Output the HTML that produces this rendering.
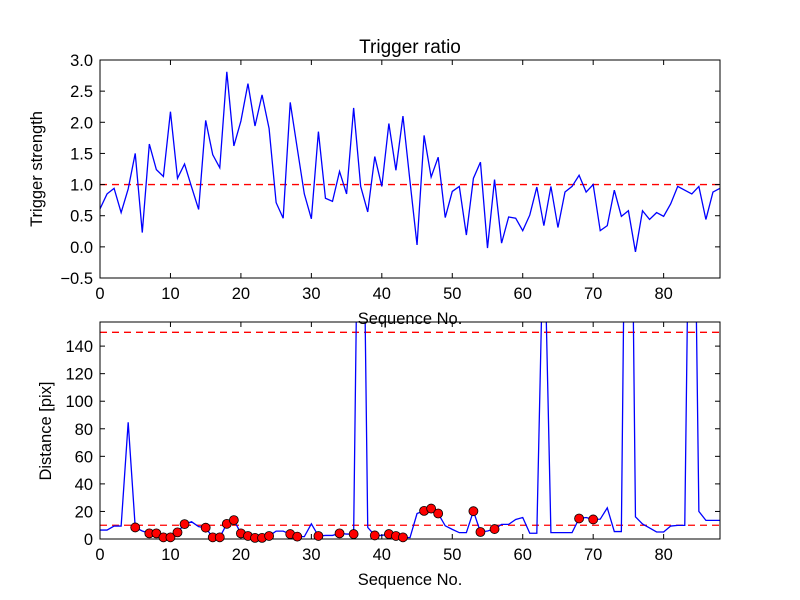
<!DOCTYPE html>
<html><head><meta charset="utf-8"><style>
body{margin:0;background:#fff;}
svg{display:block;font-family:"Liberation Sans",sans-serif;}
</style></head><body>
<svg id="fig" width="800" height="600" xmlns="http://www.w3.org/2000/svg"></svg>
<script>
const seq = Array.from({length:89},(_,i)=>i);
const ratioVals = [0.61,0.85,0.94,0.55,0.93,1.50,0.23,1.65,1.24,1.13,2.17,1.10,1.33,0.96,0.60,2.03,1.48,1.27,2.81,1.62,2.02,2.62,1.94,2.44,1.90,0.71,0.46,2.32,1.58,0.85,0.45,1.85,0.78,0.73,1.21,0.85,2.23,0.97,0.56,1.45,0.97,1.98,1.23,2.10,1.05,0.03,1.79,1.12,1.44,0.47,0.89,0.97,0.19,1.10,1.36,-0.02,1.08,0.06,0.48,0.46,0.26,0.51,0.96,0.34,0.97,0.31,0.88,0.97,1.15,0.88,1.00,0.26,0.34,0.91,0.49,0.58,-0.08,0.58,0.44,0.55,0.49,0.69,0.97,0.91,0.85,0.97,0.44,0.88,0.94];
const distVals = [6.5,6.5,9.4,9.4,84.7,8.4,5.8,4.1,4.1,1.2,1.2,4.8,10.8,12.5,9.0,8.2,1.2,1.2,11,13.7,4.1,2.2,0.8,0.8,2.2,5.7,5.7,3.6,1.7,1.7,11,2.2,2.6,2.6,4.1,3.6,3.6,420,8.4,2.6,2.6,3.6,2.2,1.2,1.0,18.5,20.4,22.1,18.5,9.6,7.0,4.6,4.6,20.2,5.1,5.8,7.2,10.6,10.6,14.2,15.6,4.2,4.2,240,4.6,4.6,4.6,4.6,14.9,15.6,14.2,14.4,22.6,5.4,5.4,500,16.1,10.9,8.0,5.1,5.1,9.4,9.9,9.9,420,20.0,13.5,13.5,13.5];
const dotIdx = [5,7,8,9,10,11,12,15,16,17,18,19,20,21,22,23,24,27,28,31,34,36,39,41,42,43,46,47,48,53,54,56,68,70];
const ratioThresh = 1.0;
const distThresh = [10,150];
const xTicks = [0,10,20,30,40,50,60,70,80];
const topYTicks = [-0.5,0,0.5,1.0,1.5,2.0,2.5,3.0];
const botYTicks = [0,20,40,60,80,100,120,140];

const NS="http://www.w3.org/2000/svg";
const svg=document.getElementById('fig');
function el(t,a,p){const e=document.createElementNS(NS,t);for(const k in a)e.setAttribute(k,a[k]);(p||svg).appendChild(e);return e;}
const X0=100,X1=720,XMAX=88;
const sx=v=>X0+(X1-X0)*v/XMAX;
const topAx={y0:60,y1:278,min:-0.5,max:3.0};
const botAx={y0:322,y1:539,min:0,max:157.5};
const syT=v=>topAx.y1-(topAx.y1-topAx.y0)*(v-topAx.min)/(topAx.max-topAx.min);
const syB=v=>botAx.y1-(botAx.y1-botAx.y0)*(v-botAx.min)/(botAx.max-botAx.min);

function axes(ax,yt,sy,fmt,name){
  const g=el('g',{});
  
  
  const clipId=name+'-clip';
  const cp=el('clipPath',{id:clipId},g);
  el('rect',{x:X0,y:ax.y0,width:X1-X0,height:ax.y1-ax.y0},cp);
  const plot=el('g',{'clip-path':'url(#'+clipId+')'},g);
  xTicks.forEach(t=>{
    const x=sx(t);
    el('line',{x1:x,y1:ax.y1,x2:x,y2:ax.y1-5,stroke:'#000'},g);
    el('line',{x1:x,y1:ax.y0,x2:x,y2:ax.y0+5,stroke:'#000'},g);
    const tx=el('text',{x:x,y:ax.y1+21,'text-anchor':'middle','font-size':'16.5'},g);
    tx.textContent=t;
    
    
  });
  yt.forEach(t=>{
    const y=sy(t);
    el('line',{x1:X0,y1:y,x2:X0+5,y2:y,stroke:'#000'},g);
    el('line',{x1:X1,y1:y,x2:X1-5,y2:y,stroke:'#000'},g);
    const tx=el('text',{x:X0-7,y:y+6,'text-anchor':'end','font-size':'16.5'},g);
    tx.textContent=fmt(t);
    
    
  });
  return {g,plot};
}
function frame(ax,g){el('rect',{x:X0,y:ax.y0,width:X1-X0,height:ax.y1-ax.y0,fill:'none',stroke:'#000','stroke-width':1},g);}

// Top
const T=axes(topAx,topYTicks,syT,v=>v.toFixed(1).replace('-','\u2212'),'ratio-axes');
const th=el('line',{x1:X0,y1:syT(ratioThresh),x2:X1,y2:syT(ratioThresh),stroke:'#f00','stroke-dasharray':'7,5','stroke-width':1.3},T.plot);


const rl=el('polyline',{points:seq.map(i=>sx(i)+','+syT(ratioVals[i])).join(' '),fill:'none',stroke:'#0000ff','stroke-width':1.3},T.plot);


frame(topAx,T.g);

// Bottom
const B=axes(botAx,botYTicks,syB,v=>String(v),'distance-axes');
distThresh.forEach(v=>{
  const l=el('line',{x1:X0,y1:syB(v),x2:X1,y2:syB(v),stroke:'#f00','stroke-dasharray':'7,5','stroke-width':1.3},B.plot);
  
  
});
const dl=el('polyline',{points:seq.map(i=>sx(i)+','+syB(distVals[i])).join(' '),fill:'none',stroke:'#0000ff','stroke-width':1.3},B.plot);


frame(botAx,B.g);
dotIdx.forEach(i=>{
  const c=el('circle',{cx:sx(i),cy:syB(distVals[i]),r:4.5,fill:'#ff0000',stroke:'#000','stroke-width':0.8},B.g);
  
  
});

function label(txt,attrs,name){const t=el('text',attrs);t.textContent=txt;}
label('Trigger ratio',{x:410,y:53,'text-anchor':'middle','font-size':'19'},'chart-title');
label('Sequence No.',{x:410,y:324,'text-anchor':'middle','font-size':'16.5'},'top-x-axis-title');
label('Sequence No.',{x:410,y:585,'text-anchor':'middle','font-size':'16.5'},'bottom-x-axis-title');
label('Trigger strength',{x:42,y:169,'text-anchor':'middle','font-size':'16.5',transform:'rotate(-90 42 169)'},'top-y-axis-title');
label('Distance [pix]',{x:51,y:431,'text-anchor':'middle','font-size':'16.5',transform:'rotate(-90 51 431)'},'bottom-y-axis-title');
</script>
</body></html>
